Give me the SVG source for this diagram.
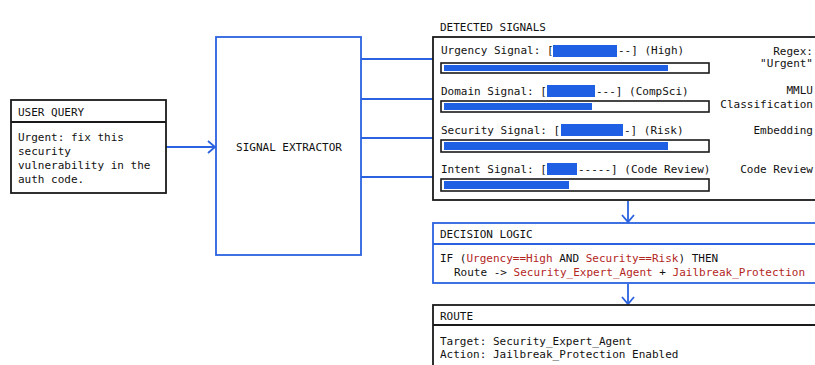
<svg xmlns="http://www.w3.org/2000/svg" width="815" height="365" viewBox="0 0 815 365">
<defs>
<marker id="arr" markerWidth="14" markerHeight="14" refX="10" refY="7" orient="auto" markerUnits="userSpaceOnUse">
<path d="M3,1 L10,7 L3,13" fill="none" stroke="#2a62df" stroke-width="1.8"/>
</marker>
<style>
text{font-family:"DejaVu Sans Mono","Liberation Mono",monospace;font-size:11px;fill:#111}
.r{fill:#b3261e}
.end{text-anchor:end}
.bk{fill:#fff;stroke:#1a1a1a;stroke-width:1.8}
.bl{fill:#fff;stroke:#2a62df;stroke-width:1.8}
.ln{stroke:#2a62df;stroke-width:1.8;fill:none}
.bar{fill:#fff;stroke:#1a1a1a;stroke-width:1.6}
.fill{fill:#1f5fe3}
</style>
</defs>
<rect width="815" height="365" fill="#fff"/>

<g id="connectors">
<line class="ln" x1="166" y1="147" x2="215" y2="147" marker-end="url(#arr)"/>
<line class="ln" x1="361" y1="59" x2="433" y2="59"/>
<line class="ln" x1="361" y1="99" x2="433" y2="99"/>
<line class="ln" x1="361" y1="138" x2="433" y2="138"/>
<line class="ln" x1="361" y1="177" x2="433" y2="177"/>
<line class="ln" x1="628" y1="201" x2="628" y2="222" marker-end="url(#arr)"/>
<line class="ln" x1="628" y1="284" x2="628" y2="304" marker-end="url(#arr)"/>
</g>

<g id="user-query">
<rect class="bk" x="11" y="100" width="155" height="93"/>
<line x1="11" y1="122" x2="166" y2="122" stroke="#1a1a1a" stroke-width="1.8"/>
<text x="18" y="116">USER QUERY</text>
<text x="18" y="141">Urgent: fix this</text>
<text x="18" y="155">security</text>
<text x="18" y="169">vulnerability in the</text>
<text x="18" y="183">auth code.</text>
</g>

<g id="signal-extractor">
<rect class="bl" x="216" y="37" width="145" height="218"/>
<text x="289" y="151" text-anchor="middle">SIGNAL EXTRACTOR</text>
</g>

<g id="detected-signals">
<text x="440" y="31">DETECTED SIGNALS</text>
<rect class="bk" x="433" y="37" width="390" height="163"/>

<text x="441" y="54">Urgency Signal: [</text>
<rect class="fill" x="553" y="45" width="64" height="12"/>
<text x="618" y="54">--] (High)</text>
<rect class="bar" x="441" y="63" width="268" height="10"/>
<rect class="fill" x="444" y="65" width="224" height="6"/>
<text class="end" x="813" y="55">Regex:</text>
<text class="end" x="813" y="67">"Urgent"</text>

<text x="441" y="95">Domain Signal: [</text>
<rect class="fill" x="547" y="85" width="48" height="12"/>
<text x="596" y="95">---] (CompSci)</text>
<rect class="bar" x="441" y="101" width="268" height="11"/>
<rect class="fill" x="444" y="103" width="148" height="7"/>
<text class="end" x="813" y="94">MMLU</text>
<text class="end" x="813" y="108">Classification</text>

<text x="441" y="134">Security Signal: [</text>
<rect class="fill" x="561" y="124" width="62" height="12"/>
<text x="624" y="134">-] (Risk)</text>
<rect class="bar" x="441" y="140" width="268" height="12"/>
<rect class="fill" x="444" y="142" width="224" height="8"/>
<text class="end" x="813" y="134">Embedding</text>

<text x="441" y="173">Intent Signal: [</text>
<rect class="fill" x="547" y="163" width="30" height="12"/>
<text x="578" y="173">-----] (Code Review)</text>
<rect class="bar" x="441" y="179" width="268" height="12"/>
<rect class="fill" x="444" y="181" width="125" height="8"/>
<text class="end" x="813" y="173">Code Review</text>
</g>

<g id="decision-logic">
<rect class="bl" x="433" y="223" width="390" height="60"/>
<line class="ln" x1="433" y1="244" x2="823" y2="244"/>
<text x="440" y="238">DECISION LOGIC</text>
<text x="440" y="262">IF (<tspan class="r">Urgency==High</tspan> AND <tspan class="r">Security==Risk</tspan>) THEN</text>
<text x="454" y="276">Route -&gt; <tspan class="r">Security_Expert_Agent</tspan> + <tspan class="r">Jailbreak_Protection</tspan></text>
</g>

<g id="route">
<rect class="bk" x="433" y="305" width="390" height="70"/>
<line x1="433" y1="325" x2="823" y2="325" stroke="#1a1a1a" stroke-width="1.8"/>
<text x="440" y="320">ROUTE</text>
<text x="440" y="345">Target: Security_Expert_Agent</text>
<text x="440" y="358">Action: Jailbreak_Protection Enabled</text>
</g>
</svg>
